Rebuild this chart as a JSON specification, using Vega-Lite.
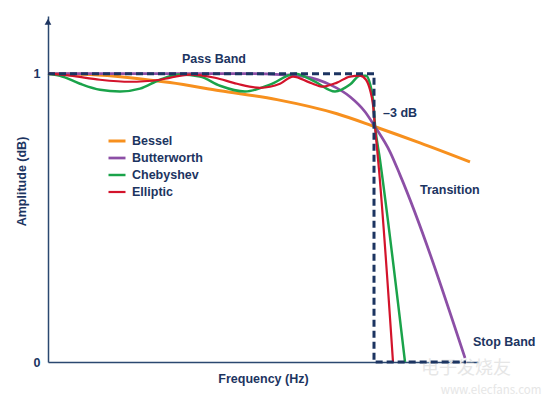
{
  "$schema": "https://vega.github.io/schema/vega-lite/v6.json",
  "width": 430,
  "height": 346,
  "autosize": {"type": "none"},
  "padding": {"left": 48, "top": 16, "right": 72, "bottom": 37},
  "background": "white",
  "config": {
    "view": {"stroke": null},
    "font": "Liberation Sans",
    "axis": {"grid": false}
  },
  "datasets": {
    "curves": [
      {"series": "Bessel", "x": 0, "y": 1.0},
      {"series": "Bessel", "x": 42, "y": 0.997},
      {"series": "Bessel", "x": 82, "y": 0.986},
      {"series": "Bessel", "x": 122, "y": 0.969},
      {"series": "Bessel", "x": 172, "y": 0.941},
      {"series": "Bessel", "x": 229, "y": 0.91},
      {"series": "Bessel", "x": 289, "y": 0.861},
      {"series": "Bessel", "x": 327, "y": 0.816},
      {"series": "Bessel", "x": 372, "y": 0.76},
      {"series": "Bessel", "x": 422, "y": 0.694},
      {"series": "Butterworth", "x": 0, "y": 1.0},
      {"series": "Butterworth", "x": 202, "y": 1.0},
      {"series": "Butterworth", "x": 232, "y": 0.997},
      {"series": "Butterworth", "x": 257, "y": 0.99},
      {"series": "Butterworth", "x": 282, "y": 0.962},
      {"series": "Butterworth", "x": 302, "y": 0.92},
      {"series": "Butterworth", "x": 317, "y": 0.868},
      {"series": "Butterworth", "x": 327, "y": 0.816},
      {"series": "Butterworth", "x": 342, "y": 0.729},
      {"series": "Butterworth", "x": 352, "y": 0.649},
      {"series": "Butterworth", "x": 417, "y": 0.014},
      {"series": "Chebyshev", "x": 0, "y": 1.0},
      {"series": "Chebyshev", "x": 12, "y": 0.993},
      {"series": "Chebyshev", "x": 32, "y": 0.965},
      {"series": "Chebyshev", "x": 52, "y": 0.944},
      {"series": "Chebyshev", "x": 72, "y": 0.938},
      {"series": "Chebyshev", "x": 92, "y": 0.948},
      {"series": "Chebyshev", "x": 112, "y": 0.979},
      {"series": "Chebyshev", "x": 132, "y": 0.997},
      {"series": "Chebyshev", "x": 152, "y": 0.99},
      {"series": "Chebyshev", "x": 172, "y": 0.958},
      {"series": "Chebyshev", "x": 197, "y": 0.938},
      {"series": "Chebyshev", "x": 222, "y": 0.962},
      {"series": "Chebyshev", "x": 247, "y": 1.0},
      {"series": "Chebyshev", "x": 267, "y": 0.972},
      {"series": "Chebyshev", "x": 287, "y": 0.938},
      {"series": "Chebyshev", "x": 302, "y": 0.962},
      {"series": "Chebyshev", "x": 312, "y": 0.993},
      {"series": "Chebyshev", "x": 318, "y": 0.993},
      {"series": "Chebyshev", "x": 322, "y": 0.965},
      {"series": "Chebyshev", "x": 325, "y": 0.91},
      {"series": "Chebyshev", "x": 327, "y": 0.823},
      {"series": "Chebyshev", "x": 332, "y": 0.701},
      {"series": "Chebyshev", "x": 357, "y": 0.0},
      {"series": "Elliptic", "x": 0, "y": 1.0},
      {"series": "Elliptic", "x": 22, "y": 0.993},
      {"series": "Elliptic", "x": 52, "y": 0.979},
      {"series": "Elliptic", "x": 82, "y": 0.972},
      {"series": "Elliptic", "x": 112, "y": 0.979},
      {"series": "Elliptic", "x": 142, "y": 0.997},
      {"series": "Elliptic", "x": 167, "y": 0.986},
      {"series": "Elliptic", "x": 189, "y": 0.965},
      {"series": "Elliptic", "x": 212, "y": 0.951},
      {"series": "Elliptic", "x": 232, "y": 0.965},
      {"series": "Elliptic", "x": 245, "y": 0.99},
      {"series": "Elliptic", "x": 262, "y": 0.969},
      {"series": "Elliptic", "x": 275, "y": 0.955},
      {"series": "Elliptic", "x": 289, "y": 0.969},
      {"series": "Elliptic", "x": 302, "y": 0.99},
      {"series": "Elliptic", "x": 312, "y": 0.993},
      {"series": "Elliptic", "x": 318, "y": 0.979},
      {"series": "Elliptic", "x": 322, "y": 0.944},
      {"series": "Elliptic", "x": 325, "y": 0.892},
      {"series": "Elliptic", "x": 327, "y": 0.816},
      {"series": "Elliptic", "x": 331, "y": 0.667},
      {"series": "Elliptic", "x": 345, "y": 0.0}
    ],
    "ideal": [
      {"i": 0, "x": 0, "y": 1.0},
      {"i": 1, "x": 326, "y": 1.0},
      {"i": 2, "x": 326, "y": 0.0},
      {"i": 3, "x": 418, "y": 0.0}
    ],
    "arrow": [{"x": 0, "y": 1.18}],
    "notes": [
      {"label": "Pass Band", "x": 134, "y": 1.052},
      {"label": "–3 dB", "x": 335, "y": 0.865},
      {"label": "Transition", "x": 372, "y": 0.597},
      {"label": "Stop Band", "x": 425, "y": 0.068}
    ],
    "wm": [
      {"label": "电子发烧友", "x": 418, "y": -0.025, "size": "big"},
      {"label": "www.elecfans.com", "x": 443, "y": -0.1, "size": "small"}
    ]
  },
  "layer": [
    {
      "data": {"name": "wm"},
      "mark": {"type": "text", "align": "center", "baseline": "middle", "color": "#e6e6e6", "font": "Noto Sans CJK SC"},
      "encoding": {
        "x": {"field": "x", "type": "quantitative"},
        "y": {"field": "y", "type": "quantitative"},
        "text": {"field": "label"},
        "size": {"field": "size", "type": "nominal", "scale": {"domain": ["big", "small"], "range": [18, 11.5]}, "legend": null}
      }
    },
    {
      "data": {"name": "curves"},
      "mark": {"type": "line", "interpolate": "monotone"},
      "encoding": {
        "x": {
          "field": "x", "type": "quantitative",
          "scale": {"domain": [0, 430], "nice": false, "zero": false},
          "axis": {
            "domainColor": "#2b4870", "domainWidth": 1.5, "ticks": false, "labels": false,
            "title": "Frequency (Hz)", "titleFont": "Liberation Sans", "titleFontWeight": "bold",
            "titleFontSize": 12.5, "titleColor": "#1c3461", "titlePadding": 10
          }
        },
        "y": {
          "field": "y", "type": "quantitative",
          "scale": {"domain": [0, 1.2], "nice": false, "zero": false},
          "axis": {
            "values": [0, 1], "format": "d", "domainColor": "#2b4870", "domainWidth": 1.5, "ticks": false,
            "labelFont": "Liberation Sans", "labelFontWeight": "bold", "labelFontSize": 12.5,
            "labelColor": "#1c3461", "labelPadding": 8,
            "title": "Amplitude (dB)", "titleFont": "Liberation Sans", "titleFontWeight": "bold",
            "titleFontSize": 12.5, "titleColor": "#1c3461", "titlePadding": 5, "titleY": 165
          }
        },
        "color": {
          "field": "series", "type": "nominal",
          "scale": {"domain": ["Bessel", "Butterworth", "Chebyshev", "Elliptic"], "range": ["#f7901e", "#8c4fa6", "#1aa34a", "#d3132b"]},
          "legend": {
            "orient": "none", "legendX": 59, "legendY": 115, "title": null,
            "symbolType": "stroke", "symbolSize": 289, "symbolStrokeWidth": 3,
            "labelFont": "Liberation Sans", "labelFontWeight": "bold", "labelFontSize": 12.5,
            "labelColor": "#1c3461", "rowPadding": 0, "labelOffset": 5, "padding": 0
          }
        },
        "strokeWidth": {
          "field": "series", "type": "nominal",
          "scale": {"domain": ["Bessel", "Butterworth", "Chebyshev", "Elliptic"], "range": [3, 2.2, 3, 3]},
          "legend": null
        }
      }
    },
    {
      "data": {"name": "ideal"},
      "mark": {"type": "line", "color": "#1c3461", "strokeWidth": 3, "strokeDash": [7, 4]},
      "encoding": {
        "x": {"field": "x", "type": "quantitative"},
        "y": {"field": "y", "type": "quantitative"},
        "order": {"field": "i", "type": "quantitative"}
      }
    },
    {
      "data": {"name": "arrow"},
      "mark": {"type": "point", "shape": "triangle-up", "filled": true, "color": "#1c3461", "size": 45, "opacity": 1},
      "encoding": {
        "x": {"field": "x", "type": "quantitative"},
        "y": {"field": "y", "type": "quantitative"}
      }
    },
    {
      "data": {"name": "notes"},
      "mark": {"type": "text", "align": "left", "baseline": "middle", "font": "Liberation Sans", "fontWeight": "bold", "fontSize": 12.5, "color": "#1c3461"},
      "encoding": {
        "x": {"field": "x", "type": "quantitative"},
        "y": {"field": "y", "type": "quantitative"},
        "text": {"field": "label"}
      }
    }
  ]
}
